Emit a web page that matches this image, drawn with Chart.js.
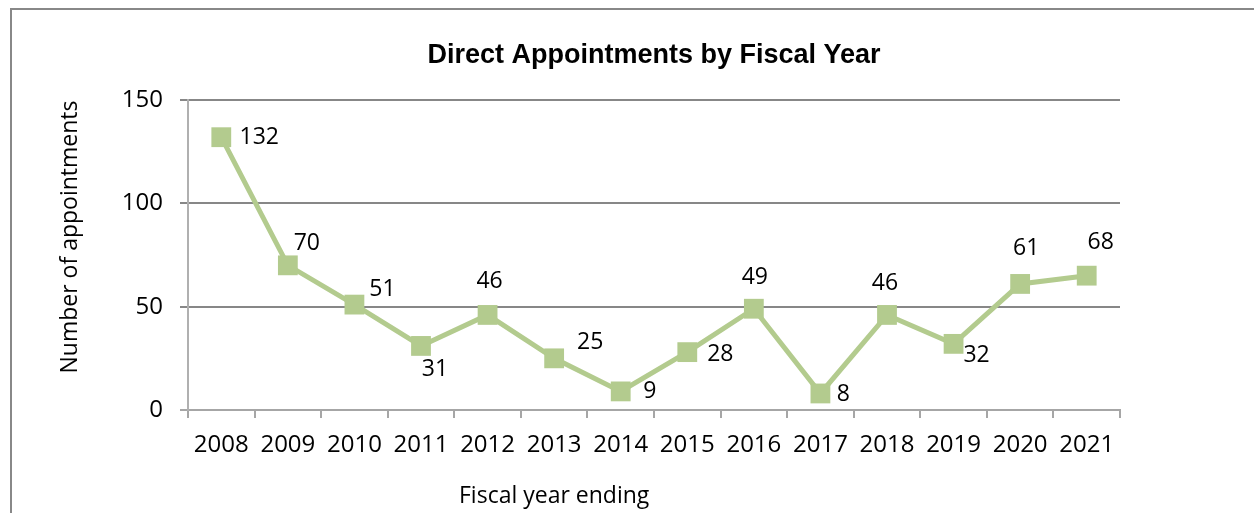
<!DOCTYPE html>
<html>
<head>
<meta charset="utf-8">
<script src="https://cdn.jsdelivr.net/npm/chart.js@4"></script>
<style>
  html, body { margin: 0; padding: 0; background: #ffffff; overflow: hidden; }
  #wrap { position: absolute; left: 0; top: 0; width: 1254px; height: 513px; }
  #frame { position: absolute; left: 10px; top: 8px; width: 2000px; height: 1000px;
           border-left: 2px solid #888888; border-top: 2px solid #888888; }
  canvas { position: absolute; left: 0; top: 0; }
</style>
</head>
<body>
<div id="wrap">
  <div id="frame"></div>
  <canvas id="c" width="1254" height="513"></canvas>
</div>
<script>
// ---- data ----
const categories = ["2008","2009","2010","2011","2012","2013","2014","2015","2016","2017","2018","2019","2020","2021"];
const appointments = [132, 70, 51, 31, 46, 25, 9, 28, 49, 8, 46, 32, 61, 65];
const dataLabels = ["132","70","51","31","46","25","9","28","49","8","46","32","61","68"];
const yTicks = [0, 50, 100, 150];

const chartTitle = "Direct Appointments by Fiscal Year";
const yTitle = "Number of appointments";
const xTitle = "Fiscal year ending";

// label placement offsets (dx, dy) from the point centre, as in the reference
const labelOffsets = [[38,0],[19,-22],[28,-15],[14,24],[2,-33],[36,-16],[29,0],[33,2],[1,-31],[23,1],[-2,-31],[23,12],[6,-35],[14,-33]];

const BODY_FONT = "'Open Sans', 'Noto Sans', sans-serif";

const decorPlugin = {
  id: 'decor',
  afterDraw(chart) {
    const ctx = chart.ctx;
    const area = chart.chartArea;
    const xs = chart.scales.x;
    const meta = chart.getDatasetMeta(0);
    ctx.save();
    // title
    ctx.fillStyle = '#000000';
    ctx.font = "bold 27px 'Liberation Sans', Arial, sans-serif";
    ctx.textAlign = 'center';
    ctx.textBaseline = 'alphabetic';
    ctx.fillText(chartTitle, (area.left + area.right) / 2, 63);
    // x title
    ctx.font = "23px " + BODY_FONT;
    ctx.fillText(xTitle, xs.getPixelForValue(5), 503);
    // y title
    ctx.save();
    ctx.translate(70, 237);
    ctx.rotate(-Math.PI / 2);
    ctx.textBaseline = 'middle';
    ctx.fillText(yTitle, 0, 0);
    ctx.restore();
    // data labels
    ctx.font = "23px " + BODY_FONT;
    ctx.textAlign = 'center';
    ctx.textBaseline = 'middle';
    meta.data.forEach((pt, i) => {
      const off = labelOffsets[i] || [0, -25];
      ctx.fillText(dataLabels[i], pt.x + off[0], pt.y + off[1]);
    });
    ctx.restore();
  }
};

new Chart(document.getElementById('c'), {
  type: 'line',
  data: {
    labels: categories,
    datasets: [{
      data: appointments,
      borderColor: '#b3cb8e',
      backgroundColor: '#b3cb8e',
      borderWidth: 5,
      pointStyle: 'rect',
      pointRadius: 14,
      pointHoverRadius: 14,
      pointBorderWidth: 0,
      pointBackgroundColor: '#b3cb8e',
      tension: 0,
      fill: false
    }]
  },
  options: {
    responsive: false,
    animation: false,
    events: [],
    layout: { padding: { left: 0, right: 134, top: 100, bottom: 0 } },
    plugins: {
      legend: { display: false },
      title: { display: false },
      tooltip: { enabled: false }
    },
    scales: {
      x: {
        type: 'category',
        offset: true,
        grid: {
          offset: true,
          drawOnChartArea: false,
          drawTicks: true,
          tickLength: 8,
          color: '#a6a6a6',
          lineWidth: 2
        },
        border: { display: true, color: '#a6a6a6', width: 2 },
        ticks: {
          color: '#000000',
          font: { family: BODY_FONT, size: 24 },
          padding: 13,
          maxRotation: 0,
          autoSkip: false
        },
        afterFit(scale) { scale.height = 103; }
      },
      y: {
        min: 0,
        max: 150,
        afterBuildTicks(scale) { scale.ticks = yTicks.map(v => ({ value: v })); },
        grid: {
          drawTicks: true,
          tickLength: 8,
          color: (c) => (c.tick && c.tick.value === 0) ? '#a6a6a6' : '#878787',
          lineWidth: 2
        },
        border: { display: true, color: '#b0b0b0', width: 2 },
        ticks: {
          color: '#000000',
          font: { family: BODY_FONT, size: 24 },
          padding: 17
        },
        afterFit(scale) { scale.width = 188; }
      }
    }
  },
  plugins: [decorPlugin]
});
</script>
</body>
</html>
